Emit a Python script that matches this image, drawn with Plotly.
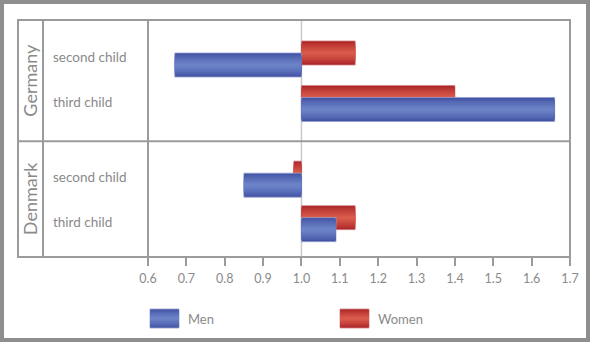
import plotly.graph_objects as go

# Relative risk of having a further child, by country and parity
groups = ["Germany", "Denmark"]
children = ["second child", "third child"]
men = [0.67, 1.66, 0.85, 1.09]
women = [1.14, 1.40, 0.98, 1.14]
x_ticks = [0.6, 0.7, 0.8, 0.9, 1.0, 1.1, 1.2, 1.3, 1.4, 1.5, 1.6, 1.7]
reference = 1.0

# vertical layout of the category rows (in row units)
row_pos = [0.0, 1.0, 2.7, 3.7]
y_top, y_bottom = -0.876, 4.449
group_split = (row_pos[1] + row_pos[2]) / 2

W, H = 590, 342
L, R, T, B = 148, 20, 20, 85
pw, ph = W - L - R, H - T - B

def px(xp):
    return (xp - L) / pw

def py(yp):
    return (H - B - yp) / ph

FONT = "Lato, Open Sans, sans-serif"
TXT = "#8a8a8a"
GRID = "#9b9b9b"

BAR_W = 0.54
SHIFT = 0.135
N_LAYERS = 7

def blend(c1, c2, t):
    a = [int(c1[i:i + 2], 16) for i in (1, 3, 5)]
    b = [int(c2[i:i + 2], 16) for i in (1, 3, 5)]
    return "#" + "".join(f"{round(a[k] + (b[k] - a[k]) * t):02x}" for k in range(3))

series = [
    ("Women", women, -SHIFT, "#ad2528", "#d85a4b"),
    ("Men", men, SHIFT, "#4253a5", "#6c82c7"),
]

fig = go.Figure()
for name, vals, shift, edge, mid in series:
    for k in range(N_LAYERS):
        t = k / (N_LAYERS - 1)
        w = BAR_W * (1 - 0.85 * t)
        fig.add_trace(go.Bar(
            orientation="h",
            y=row_pos,
            x=[v - reference for v in vals],
            base=reference,
            width=w,
            offset=shift - w / 2,
            marker=dict(color=blend(edge, mid, t ** 0.8),
                        line=dict(width=0.8 if k == 0 else 0,
                                  color=blend(edge, "#ffffff", 0.45))),
            name=name,
            showlegend=False,
            hovertemplate=name + ": %{customdata:.2f}<extra></extra>",
            customdata=vals,
        ))

shapes = []
# page frame
shapes.append(dict(type="rect", xref="paper", yref="paper",
                   x0=px(2), x1=px(W - 2), y0=py(H - 2), y1=py(2),
                   line=dict(color="#8e8e8e", width=4), layer="below"))
# reference line at 1.0
shapes.append(dict(type="line", xref="x", yref="paper", x0=reference, x1=reference,
                   y0=0, y1=1, line=dict(color="#c9c9c9", width=1.5), layer="below"))
# table box and separators
shapes.append(dict(type="rect", xref="paper", yref="paper",
                   x0=px(18), x1=px(570), y0=0, y1=1,
                   line=dict(color=GRID, width=2)))
for xp in (43, 148):
    shapes.append(dict(type="line", xref="paper", yref="paper",
                       x0=px(xp), x1=px(xp), y0=0, y1=1,
                       line=dict(color=GRID, width=2)))
shapes.append(dict(type="line", xref="paper", yref="y",
                   x0=px(18), x1=px(570), y0=group_split, y1=group_split,
                   line=dict(color=GRID, width=2)))

annotations = []
for i, y in enumerate(row_pos):
    annotations.append(dict(xref="paper", yref="y", x=px(51), y=y - 0.04,
                            text=children[i % 2], showarrow=False,
                            xanchor="left", yanchor="middle",
                            font=dict(family=FONT, size=13.5, color=TXT)))
group_centres = [(y_top + group_split) / 2, (group_split + y_bottom) / 2]
for g, yc in zip(groups, group_centres):
    annotations.append(dict(xref="paper", yref="y", x=px(30), y=yc,
                            text=g, showarrow=False, textangle=-90,
                            xanchor="center", yanchor="middle",
                            font=dict(family=FONT, size=18, color=TXT)))

# legend swatches
legend_items = [("Men", "#4253a5", "#6c82c7", 150), ("Women", "#ad2528", "#d85a4b", 340)]
for name, edge, mid, x0 in legend_items:
    top, bot = 309, 328
    for k in range(N_LAYERS):
        t = k / (N_LAYERS - 1)
        half = (bot - top) / 2 * (1 - 0.85 * t)
        c = (top + bot) / 2
        shapes.append(dict(type="rect", xref="paper", yref="paper",
                           x0=px(x0), x1=px(x0 + 29),
                           y0=py(c + half), y1=py(c - half),
                           fillcolor=blend(edge, mid, t ** 0.8),
                           line=dict(width=0.8 if k == 0 else 0,
                                     color=blend(edge, "#ffffff", 0.45))))
    annotations.append(dict(xref="paper", yref="paper", x=px(x0 + 36), y=py(319),
                            text=name, showarrow=False, xanchor="left", yanchor="middle",
                            font=dict(family=FONT, size=13, color=TXT)))

fig.update_layout(
    width=W, height=H,
    margin=dict(l=L, r=R, t=T, b=B),
    paper_bgcolor="white", plot_bgcolor="white",
    barmode="overlay",
    showlegend=False,
    shapes=shapes,
    annotations=annotations,
    font=dict(family=FONT, color=TXT),
)
fig.update_xaxes(range=[x_ticks[0], x_ticks[-1]], tickvals=x_ticks, tickformat=".1f",
                 ticks="outside", ticklen=8, tickwidth=2, tickcolor=GRID,
                 ticklabelstandoff=2,
                 showgrid=False, zeroline=False, showline=False,
                 tickfont=dict(family=FONT, size=12.5, color=TXT))
fig.update_yaxes(range=[y_bottom, y_top], showticklabels=False, showgrid=False,
                 zeroline=False, showline=False, ticks="")

fig.write_html("out.html")
